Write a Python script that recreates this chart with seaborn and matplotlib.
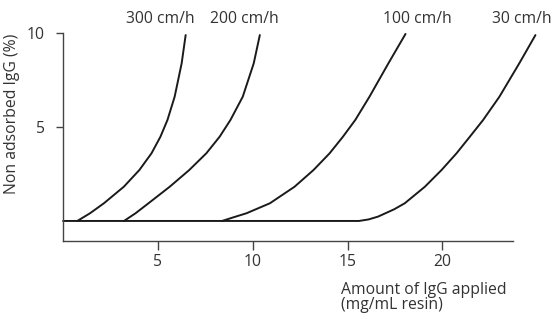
import pandas as pd
import seaborn as sns
import matplotlib.pyplot as plt

# ── data ───────────────────────────────────────────────────────
rates = ['300 cm/h', '200 cm/h', '100 cm/h', '30 cm/h']

x_300 = [0.75, 1.42, 2.15, 3.20, 4.02, 4.66, 5.13, 5.50, 5.88, 6.25, 6.46]
y_300 = [0.0, 0.41, 0.94, 1.82, 2.71, 3.60, 4.48, 5.37, 6.61, 8.39, 9.89]

x_200 = [3.21, 3.82, 4.50, 5.62, 6.65, 7.55, 8.25, 8.82, 9.47, 10.05, 10.37]
y_200 = [0.0, 0.41, 0.94, 1.82, 2.71, 3.60, 4.48, 5.37, 6.61, 8.39, 9.89]

x_100 = [8.38, 9.00, 9.67, 10.90, 12.20, 13.20, 14.05, 14.75, 15.40,
         16.15, 17.15, 18.05]
y_100 = [0.0, 0.20, 0.41, 0.94, 1.82, 2.71, 3.60, 4.48, 5.37,
         6.61, 8.39, 9.95]

x_30 = [0.0, 15.60, 16.10, 16.60, 17.45, 18.01, 19.07, 19.95, 20.74,
        21.44, 22.14, 23.0, 24.05, 24.90]
y_30 = [0.0, 0.0, 0.08, 0.23, 0.62, 0.94, 1.82, 2.71, 3.60,
        4.48, 5.37, 6.61, 8.39, 9.89]

label_x = [5.1, 9.53, 18.65, 24.18]
x_ticks = [5, 10, 15, 20]
y_ticks = [5, 10]

df = pd.concat([
    pd.DataFrame({'amount': xs, 'non_adsorbed': ys, 'rate': r})
    for r, xs, ys in zip(rates, [x_300, x_200, x_100, x_30],
                         [y_300, y_200, y_100, y_30])
])

# ── plot ───────────────────────────────────────────────────────
sns.set_style('white')
plt.rcParams['font.family'] = ['Open Sans', 'DejaVu Sans']
txt = '#333333'
fs = 11.3

fig = plt.figure(figsize=(5.56, 3.19), dpi=100)
ax = fig.add_axes([0.1135, 0.2455, 0.870, 0.651])

sns.lineplot(data=df, x='amount', y='non_adsorbed', hue='rate',
             palette=['#1a1a1a'] * 4, linewidth=1.4, legend=False,
             sort=False, ax=ax)
for line in ax.lines:
    line.set_clip_on(False)
    line.set_solid_joinstyle('round')

for r, lx in zip(rates, label_x):
    ax.text(lx, 10.74, r, ha='center', va='center', fontsize=fs,
            color=txt, clip_on=False)

ax.set_xlim(0, 25.5)
ax.set_ylim(-1.05, 10)
ax.set_xticks(x_ticks)
ax.set_yticks(y_ticks)
ax.set_xlabel('')
ax.set_ylabel('')
sns.despine(ax=ax)
ax.spines['bottom'].set_bounds(0, 23.7)
ax.spines['left'].set_bounds(-1.05, 10)
for s in ['bottom', 'left']:
    ax.spines[s].set_color('#444444')
    ax.spines[s].set_linewidth(1.0)
ax.tick_params(axis='x', length=6.5, width=1.0, color='#444444',
               pad=3, labelsize=fs, labelcolor=txt, bottom=True)
ax.tick_params(axis='y', length=5, width=1.0, color='#444444',
               pad=8, labelsize=fs, labelcolor=txt, left=True)

fig.text(12 / 556, 1 - 114 / 319, 'Non adsorbed IgG (%)', rotation=90,
         ha='center', va='center', fontsize=fs, color=txt)
fig.text(341 / 556, 1 - 282 / 319, 'Amount of IgG applied\n(mg/mL resin)',
         ha='left', va='top', fontsize=fs, color=txt, linespacing=0.95)

fig.savefig('out.png', dpi=100)
